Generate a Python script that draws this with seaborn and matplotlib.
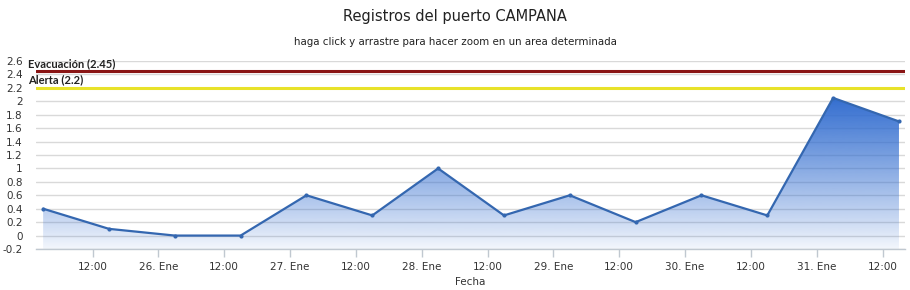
import numpy as np
import pandas as pd
import matplotlib
matplotlib.use("Agg")
import matplotlib.pyplot as plt
import matplotlib.dates as mdates
import matplotlib.transforms as mtransforms
from matplotlib.colors import to_rgb
import seaborn as sns

# ---- data ----
times = ["2013-01-25 03:00", "2013-01-25 15:00", "2013-01-26 03:00", "2013-01-26 15:00",
         "2013-01-27 03:00", "2013-01-27 15:00", "2013-01-28 03:00", "2013-01-28 15:00",
         "2013-01-29 03:00", "2013-01-29 15:00", "2013-01-30 03:00", "2013-01-30 15:00",
         "2013-01-31 03:00", "2013-01-31 15:00"]
levels = [0.4, 0.1, 0.0, 0.0, 0.6, 0.3, 1.0, 0.3, 0.6, 0.2, 0.6, 0.3, 2.05, 1.7]
tick_times = ["2013-01-25 12:00", "2013-01-26 00:00", "2013-01-26 12:00", "2013-01-27 00:00",
              "2013-01-27 12:00", "2013-01-28 00:00", "2013-01-28 12:00", "2013-01-29 00:00",
              "2013-01-29 12:00", "2013-01-30 00:00", "2013-01-30 12:00", "2013-01-31 00:00",
              "2013-01-31 12:00"]
tick_labels = ["12:00", "26. Ene", "12:00", "27. Ene", "12:00", "28. Ene", "12:00",
               "29. Ene", "12:00", "30. Ene", "12:00", "31. Ene", "12:00"]
y_ticks = [-0.2, 0, 0.2, 0.4, 0.6, 0.8, 1, 1.2, 1.4, 1.6, 1.8, 2, 2.2, 2.4, 2.6]
thresholds = [2.45, 2.2]
threshold_labels = ["Evacuación (2.45)", "Alerta (2.2)"]
threshold_colors = ["#8a1515", "#e8e22a"]

df = pd.DataFrame({"Fecha": pd.to_datetime(times), "Nivel": levels})

sns.set_theme(style="white")
plt.rcParams["font.family"] = ["DejaVu Sans"]

fig = plt.figure(figsize=(9.1, 2.9), dpi=100)
ax = fig.add_axes([36 / 910, 41 / 290, (905 - 36) / 910, (249 - 61) / 290])

x0 = mdates.date2num(df["Fecha"].iloc[0]) - 1.3 / 24
x1 = mdates.date2num(df["Fecha"].iloc[-1]) + 1.1 / 24
ymin, ymax = -0.2, 2.6
ax.set_xlim(x0, x1)
ax.set_ylim(ymin, ymax)

# gridlines
ax.set_yticks(y_ticks)
ax.yaxis.grid(True, color="#d9d9d9", lw=1, zorder=0)
ax.xaxis.grid(False)
ax.set_axisbelow(True)

# gradient fill under the line (blue fading to transparent downward)
xn = mdates.date2num(df["Fecha"])
poly = ax.fill_between(xn, df["Nivel"], ymin, color="none", lw=0)
base = np.array(to_rgb("#2f6bcf"))
n = 256
alpha = np.linspace(0.04, 1.0, n) ** 0.9
img = np.zeros((n, 1, 4))
img[:, 0, :3] = base
img[:, 0, 3] = alpha
im = ax.imshow(img, aspect="auto", origin="lower",
               extent=[xn[0], xn[-1], ymin, 2.1], zorder=1)
im.set_clip_path(poly.get_paths()[0], transform=ax.transData)

sns.lineplot(data=df, x="Fecha", y="Nivel", ax=ax, color="#3467b0", lw=1.6,
             marker="o", markersize=3, markeredgewidth=0, zorder=3)

# threshold lines
tr = mtransforms.blended_transform_factory(fig.transFigure, ax.transData)
for val, lab, col in zip(thresholds, threshold_labels, threshold_colors):
    ax.axhline(val, color=col, lw=2.2, zorder=2)
    ax.text(28 / 910, val + 0.035, lab, transform=tr, fontsize=8, fontweight="bold",
            family="Lato", color="#222222", ha="left", va="bottom", clip_on=False)

# axes styling
for s in ["top", "right", "left"]:
    ax.spines[s].set_visible(False)
ax.spines["bottom"].set_color("#c0c8d0")
ax.spines["bottom"].set_linewidth(1)

ax.set_xticks(mdates.date2num(pd.to_datetime(tick_times)))
ax.set_xticklabels(tick_labels)
ax.set_yticklabels([("%g" % v) for v in y_ticks])
ax.tick_params(axis="x", length=6, width=1, color="#c0c8d0", labelsize=7.5,
               labelcolor="#333333", pad=3, bottom=True)
ax.tick_params(axis="y", length=0, labelsize=7.5, labelcolor="#333333", pad=9.5)
ax.set_xlabel("Fecha", fontsize=7.5, color="#333333", labelpad=4)
ax.set_ylabel("")

fig.text(0.5, 1 - 17 / 290, "Registros del puerto CAMPANA", ha="center", va="center",
         fontsize=10.5, color="#222222")
fig.text(0.5, 1 - 42 / 290, "haga click y arrastre para hacer zoom en un area determinada",
         ha="center", va="center", fontsize=7.4, color="#222222")

fig.savefig("out.png", dpi=100)
